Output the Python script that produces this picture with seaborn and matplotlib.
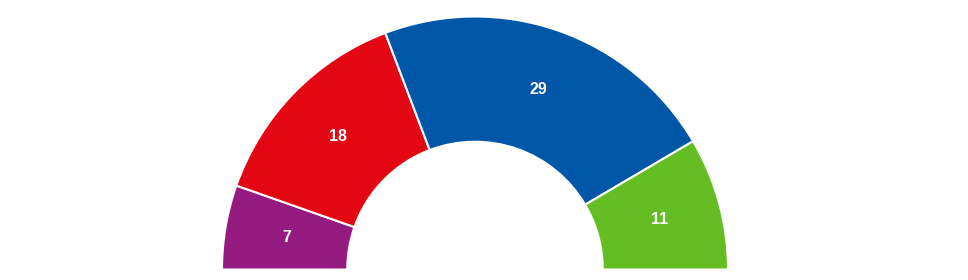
import numpy as np
import matplotlib
matplotlib.use("Agg")
import matplotlib.pyplot as plt
import seaborn as sns

parties = ["Purple", "Red", "Blue", "Green"]
seats = [7, 18, 29, 11]
colors = ["#951B81", "#E30613", "#0057A8", "#64BE23"]

sns.set_theme(style="white")
plt.rcParams['font.family'] = ['Liberation Sans', 'DejaVu Sans']

fig = plt.figure(figsize=(9.68, 2.8), dpi=100)
ax = fig.add_axes([0, 0, 1, 1])
ax.set_axis_off()

total = sum(seats)
vals = seats + [total]
cols = colors + ["none"]
wedges, _ = ax.pie(vals, colors=cols, startangle=180, counterclock=False,
                   radius=1.0, center=(0, 0),
                   wedgeprops=dict(width=0.495, edgecolor="white", linewidth=1.5))
wedges[-1].set_visible(False)

for w, v in zip(wedges[:-1], seats):
    ang = np.deg2rad((w.theta1 + w.theta2) / 2)
    r = 0.755
    ax.text(r * np.cos(ang), r * np.sin(ang), str(v), ha="center", va="center",
            color="white", fontsize=11.5, fontweight="bold")

scale = 253.0
cx, cy = 475.0, 269.5
ax.set_xlim(-cx / scale, (968 - cx) / scale)
ax.set_ylim(-(280 - cy) / scale, cy / scale)
ax.set_aspect("auto")

fig.savefig("out.png", dpi=100)
